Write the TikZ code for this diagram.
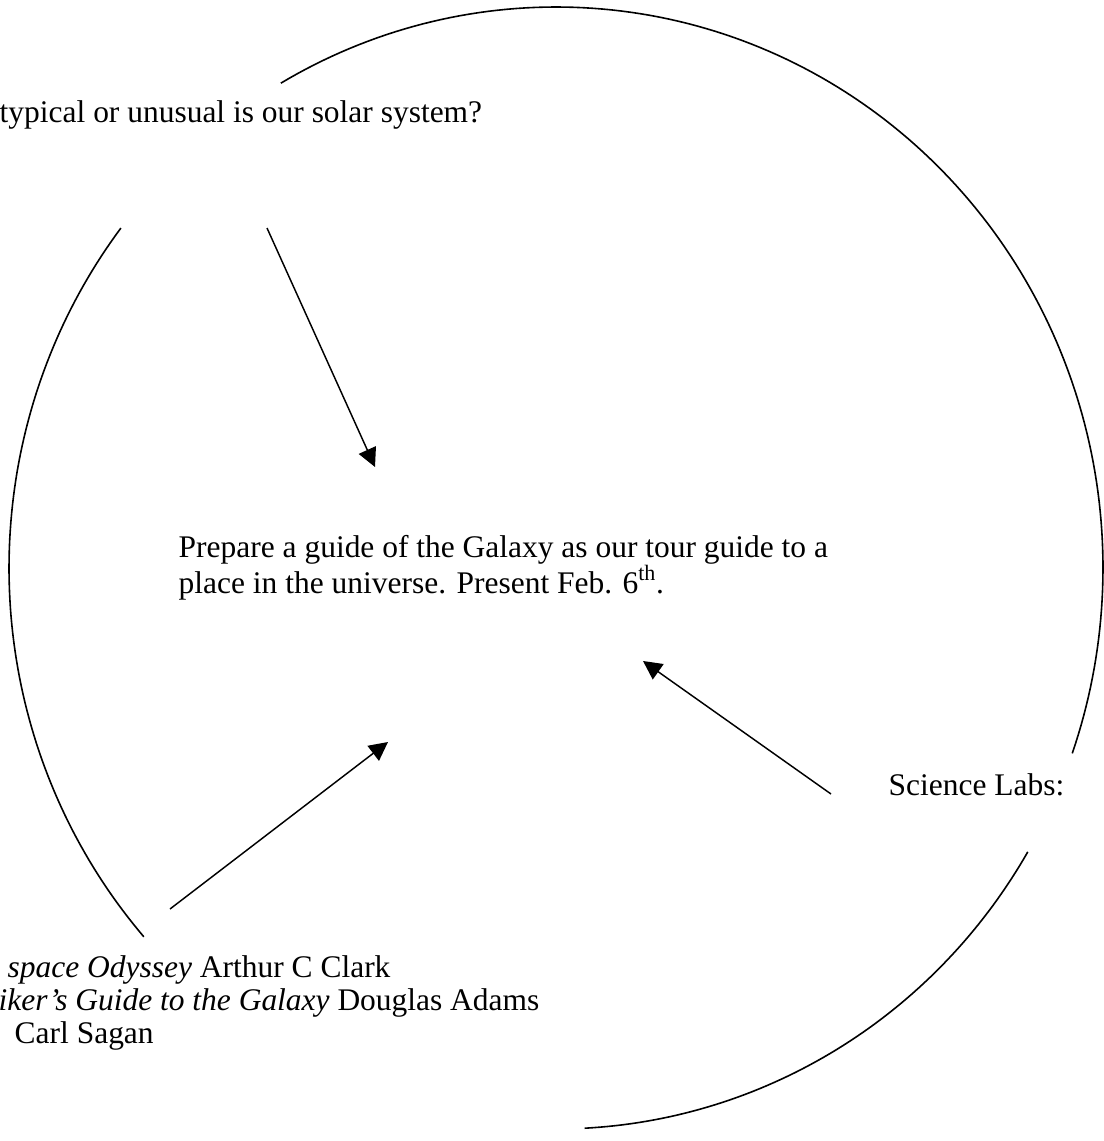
\documentclass[tikz,border=0pt]{standalone}
\usepackage{fontspec}
\setmainfont{Liberation Serif}
\usetikzlibrary{arrows.meta}
\begin{document}
\begin{tikzpicture}[x=0.75pt, y=-0.75pt, line width=1.1pt]

      \useasboundingbox (0,0) rectangle (1103,1141);

      % the broken ring
      \begin{scope}[line width=1.2pt]
        \draw plot[domain=-120.2:19.3, samples=140] ({556+547*cos(\x)}, {568+561*sin(\x)});
        \draw plot[domain=30.4:87, samples=70] ({556+547*cos(\x)}, {568+561*sin(\x)});
        \draw plot[domain=138.9:217.3, samples=90] ({556+547*cos(\x)}, {568+561*sin(\x)});
      \end{scope}

      \begin{scope}[every node/.style={anchor=base west, inner sep=0pt, font=\fontsize{23.6}{27}\selectfont}]
        \node (question) at (-1,123)  {typical or unusual is our solar system?};
        \node (goal1)    at (178,557) {Prepare a guide of the Galaxy as our tour guide to a};
        \node (goal2)    at (178,593) {place in the universe. Present Feb. 6\textsuperscript{th}.};
        \node (labs)     at (888,795) {Science Labs:};
        \node (book1)    at (7,977)   {\textit{space Odyssey} Arthur C Clark};
        \node (book2)    at (-2,1010) {\textit{iker’s Guide to the Galaxy} Douglas Adams};
        \node (book3)    at (14,1043) {Carl Sagan};
      \end{scope}

      \coordinate (qfoot) at (267,228);
      \coordinate (qtip)  at (375,467);
      \coordinate (bfoot) at (170,909);
      \coordinate (btip)  at (388,742);
      \coordinate (lfoot) at (831,794);
      \coordinate (ltip)  at (643,661);

      \begin{scope}[every edge/.style={draw, -{Triangle[length=14pt, width=14pt]}}]
        \path (qfoot) edge (qtip);
        \path (bfoot) edge (btip);
        \path (lfoot) edge (ltip);
      \end{scope}

    \end{tikzpicture}
\end{document}
